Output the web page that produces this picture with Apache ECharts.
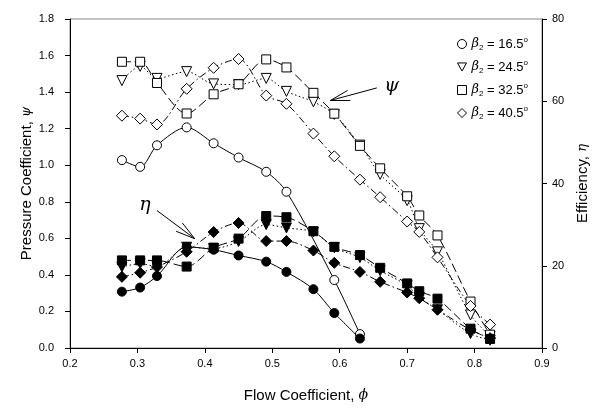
<!DOCTYPE html>
<html>
<head>
<meta charset="utf-8">
<script src="https://cdn.jsdelivr.net/npm/echarts@6/dist/echarts.min.js"></script>
<style>
  html, body { margin: 0; padding: 0; background: #fff; }
  #chart { width: 607px; height: 408px; }
</style>
</head>
<body>
<div id="chart"></div>
<script>
// flow coefficient values (x)
const phi = [0.277, 0.304, 0.329, 0.373, 0.413, 0.450, 0.491, 0.521, 0.561, 0.592, 0.630, 0.660, 0.700, 0.718, 0.745, 0.794, 0.823];

const betaNames = ['16.5', '24.5', '32.5', '40.5'];

// pressure coefficient psi (open markers, left axis)
const psi165 = [1.028, 0.991, 1.109, 1.207, 1.120, 1.042, 0.964, 0.855, null, 0.372, 0.076];
const psi245 = [1.463, 1.541, 1.475, 1.512, 1.445, 1.441, 1.475, 1.404, 1.347, 1.278, 1.110, 0.950, 0.806, 0.653, 0.526, 0.181, 0.065];
const psi325 = [1.566, 1.566, 1.450, 1.283, 1.388, 1.443, 1.579, 1.535, 1.396, 1.282, 1.106, 0.983, 0.830, 0.725, 0.616, 0.254, 0.073];
const psi405 = [1.271, 1.255, 1.223, 1.418, 1.533, 1.581, 1.381, 1.336, 1.173, 1.049, 0.921, 0.825, 0.692, 0.635, 0.496, 0.230, 0.128];

// efficiency eta in % (filled markers, right axis)
const eta165 = [13.7, 14.7, 17.5, 24.6, 23.9, 22.5, 21.0, 18.5, 14.3, 8.5, 2.3];
const eta245 = [19.7, 20.5, 19.8, 24.5, 24.2, 25.9, 30.0, 29.2, 28.2, 24.4, 22.0, 18.8, 15.2, 12.3, 9.3, 3.5, 1.9];
const eta325 = [21.3, 21.3, 21.3, 19.8, 24.4, 26.6, 32.1, 31.8, 28.4, 24.6, 22.6, 19.5, 15.7, 13.8, 12.0, 4.7, 2.2];
const eta405 = [17.3, 18.3, 19.7, 23.4, 28.2, 30.4, 26.0, 26.0, 23.7, 20.7, 18.5, 16.1, 13.5, 12.1, 9.3, 4.4, 2.4];

const symbols = ['circle', 'path://M0,0 L10,0 L5,9 Z', 'rect', 'diamond'];
const lineTypes = ['solid', [1.5, 2.5], [9, 4], [7, 3, 1.5, 3]];
const symbolSizes = [9, 10, 9, 11];

function pairs(arr) {
  const out = [];
  arr.forEach((v, i) => { if (v !== null && v !== undefined) out.push([phi[i], v]); });
  return out;
}

const chart = echarts.init(document.getElementById('chart'));

const psiSets = [psi165, psi245, psi325, psi405];
const etaSets = [eta165, eta245, eta325, eta405];

const series = [];
psiSets.forEach((arr, k) => {
  series.push({
    name: betaNames[k],
    type: 'line',
    yAxisIndex: 0,
    data: pairs(arr),
    smooth: 0.3,
    symbol: symbols[k],
    symbolSize: symbolSizes[k],
    showAllSymbol: true,
    lineStyle: { color: '#000', width: 1, type: lineTypes[k] },
    itemStyle: { color: '#fff', borderColor: '#000', borderWidth: 1 },
    z: 2,
    animation: false
  });
});
etaSets.forEach((arr, k) => {
  series.push({
    name: 'eta' + betaNames[k],
    type: 'line',
    yAxisIndex: 1,
    data: pairs(arr),
    smooth: 0.3,
    symbol: symbols[k],
    symbolSize: symbolSizes[k],
    showAllSymbol: true,
    lineStyle: { color: '#000', width: 1, type: lineTypes[k] },
    itemStyle: { color: '#000', borderColor: '#000', borderWidth: 1 },
    z: 3,
    animation: false
  });
});

const font = 'Liberation Sans, Arial, sans-serif';

chart.setOption({
  animation: false,
  grid: { left: 70, right: 65, top: 19, bottom: 58, show: true, borderColor: '#888', borderWidth: 1 },
  legend: {
    orient: 'vertical',
    left: 452,
    top: 31,
    itemWidth: 9,
    itemHeight: 9,
    itemGap: 7,
    data: betaNames.map((n, k) => ({
      name: n,
      icon: symbols[k],
      itemStyle: { color: '#fff', borderColor: '#000', borderWidth: 1 }
    })),
    formatter: n => '{b|β}{s|2} = ' + n + '{o|o}',
    textStyle: {
      fontFamily: font, fontSize: 13, color: '#000', lineHeight: 16,
      rich: {
        b: { fontFamily: 'DejaVu Serif', fontStyle: 'italic', fontSize: 13, lineHeight: 16 },
        s: { fontFamily: font, fontSize: 8, lineHeight: 8, verticalAlign: 'bottom' },
        o: { fontFamily: font, fontSize: 8, lineHeight: 8, verticalAlign: 'top' }
      }
    }
  },
  xAxis: {
    type: 'value',
    min: 0.2, max: 0.9, interval: 0.1,
    name: 'Flow Coefficient, {i|ϕ}',
    nameLocation: 'middle',
    nameGap: 40,
    nameTextStyle: {
      fontFamily: font, fontSize: 15, color: '#000',
      rich: { i: { fontFamily: 'DejaVu Serif', fontStyle: 'italic', fontSize: 14 } }
    },
    axisLine: { lineStyle: { color: '#000', width: 1 } },
    axisTick: { inside: false, length: 5, lineStyle: { color: '#000' } },
    axisLabel: { fontFamily: font, fontSize: 11, color: '#000', margin: 10, formatter: v => v.toFixed(1) },
    splitLine: { show: false }
  },
  yAxis: [
    {
      type: 'value',
      min: 0, max: 1.8, interval: 0.2,
      name: 'Pressure Coefficient, {i|ψ}',
      nameLocation: 'middle',
      nameGap: 36,
      nameMoveOverlap: false,
      nameRotate: 90,
      nameTextStyle: {
        fontFamily: font, fontSize: 15, color: '#000',
        rich: { i: { fontFamily: 'DejaVu Serif', fontStyle: 'italic', fontSize: 13 } }
      },
      axisLine: { show: true, lineStyle: { color: '#000', width: 1 } },
      axisTick: { show: true, length: 5, lineStyle: { color: '#000' } },
      axisLabel: { fontFamily: font, fontSize: 11, color: '#000', margin: 16, formatter: v => v.toFixed(1) },
      splitLine: { show: false }
    },
    {
      type: 'value',
      position: 'right',
      min: 0, max: 80, interval: 20,
      name: 'Efficiency, {i|η}',
      nameLocation: 'middle',
      nameGap: 32,
      nameRotate: 90,
      nameTextStyle: {
        fontFamily: font, fontSize: 15, color: '#000',
        rich: { i: { fontFamily: 'DejaVu Serif', fontStyle: 'italic', fontSize: 13 } }
      },
      axisLine: { show: true, lineStyle: { color: '#000', width: 1 } },
      axisTick: { show: true, length: 5, lineStyle: { color: '#000' } },
      axisLabel: { fontFamily: font, fontSize: 11, color: '#000', margin: 10 },
      splitLine: { show: false }
    }
  ],
  series: series
});

// annotation arrows, anchored in data coordinates
const notes = [
  { label: 'ψ', text: [0.677, 1.432], tail: [0.655, 1.423], tip: [0.586, 1.354] },
  { label: 'η', text: [0.311, 0.78], tail: [0.329, 0.752], tip: [0.385, 0.598] }
];

const graphics = [];
notes.forEach(n => {
  const t = chart.convertToPixel({ xAxisIndex: 0, yAxisIndex: 0 }, n.text);
  const a = chart.convertToPixel({ xAxisIndex: 0, yAxisIndex: 0 }, n.tail);
  const b = chart.convertToPixel({ xAxisIndex: 0, yAxisIndex: 0 }, n.tip);
  const ang = Math.atan2(a[1] - b[1], a[0] - b[0]);
  const len = 20, spread = 15 * Math.PI / 180;
  const h1 = [b[0] + len * Math.cos(ang - spread), b[1] + len * Math.sin(ang - spread)];
  const h2 = [b[0] + len * Math.cos(ang + spread), b[1] + len * Math.sin(ang + spread)];
  graphics.push({
    type: 'line', z: 10,
    shape: { x1: a[0], y1: a[1], x2: b[0], y2: b[1] },
    style: { stroke: '#000', lineWidth: 1 }
  });
  graphics.push({
    type: 'polyline', z: 10,
    shape: { points: [h1, b, h2] },
    style: { stroke: '#000', lineWidth: 1, fill: null }
  });
  graphics.push({
    type: 'text', z: 10,
    x: t[0], y: t[1],
    style: {
      text: n.label, fontFamily: 'DejaVu Serif', fontStyle: 'italic', fontSize: 19,
      fill: '#000', align: 'center', verticalAlign: 'middle'
    }
  });
});
chart.setOption({ graphic: graphics });
</script>
</body>
</html>
